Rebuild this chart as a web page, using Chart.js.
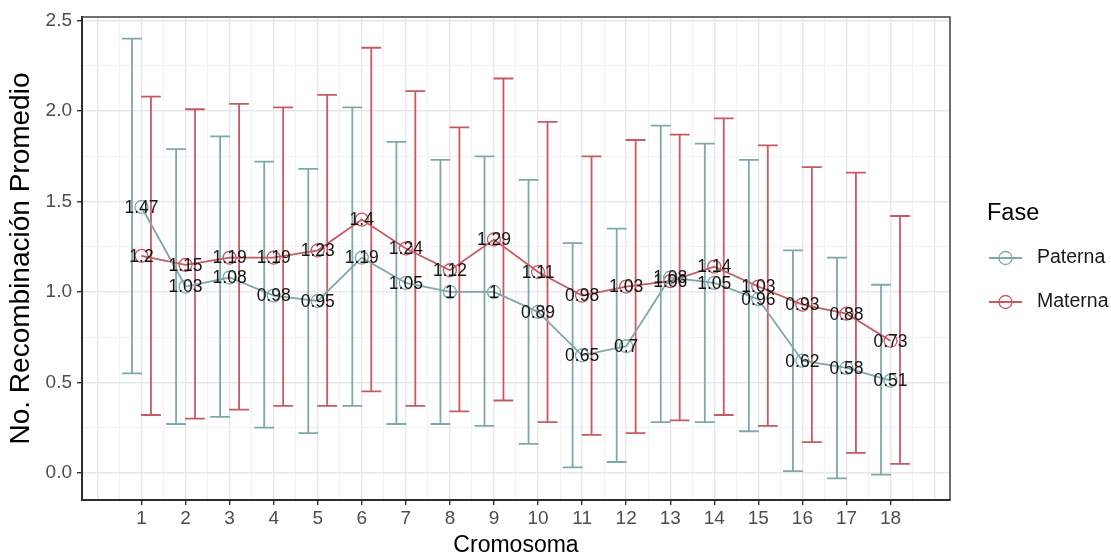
<!DOCTYPE html>
<html lang="es">
<head>
<meta charset="UTF-8">
<title>Recombinación promedio por cromosoma</title>
<style>
  body { margin: 0; background: #ffffff; }
  #grafico { display: block; }
</style>
</head>
<body>
<canvas id="grafico" width="1111" height="559"></canvas>

<script src="https://cdn.jsdelivr.net/npm/chart.js"></script>
<script>
// Datos por cromosoma: media y extremos de la barra de error
const cromosomas = [1, 2, 3, 4, 5, 6, 7, 8, 9, 10, 11, 12, 13, 14, 15, 16, 17, 18];

const paternaMedia = [1.47, 1.03, 1.08, 0.98, 0.95, 1.19, 1.05, 1, 1, 0.89, 0.65, 0.7, 1.08, 1.05, 0.96, 0.62, 0.58, 0.51];
const paternaInf   = [0.55, 0.27, 0.31, 0.25, 0.22, 0.37, 0.27, 0.27, 0.26, 0.16, 0.03, 0.06, 0.28, 0.28, 0.23, 0.01, -0.03, -0.01];
const paternaSup   = [2.40, 1.79, 1.86, 1.72, 1.68, 2.02, 1.83, 1.73, 1.75, 1.62, 1.27, 1.35, 1.92, 1.82, 1.73, 1.23, 1.19, 1.04];

const maternaMedia = [1.2, 1.15, 1.19, 1.19, 1.23, 1.4, 1.24, 1.12, 1.29, 1.11, 0.98, 1.03, 1.06, 1.14, 1.03, 0.93, 0.88, 0.73];
const maternaInf   = [0.32, 0.30, 0.35, 0.37, 0.37, 0.45, 0.37, 0.34, 0.40, 0.28, 0.21, 0.22, 0.29, 0.32, 0.26, 0.17, 0.11, 0.05];
const maternaSup   = [2.08, 2.01, 2.04, 2.02, 2.09, 2.35, 2.11, 1.91, 2.18, 1.94, 1.75, 1.84, 1.87, 1.96, 1.81, 1.69, 1.66, 1.42];

const fases = ['Paterna', 'Materna'];
const xEtiquetas = cromosomas;
const yEtiquetas = [0, 0.5, 1, 1.5, 2, 2.5];

const colores = { Paterna: '#7fa8ab', Materna: '#c65a63' };
const fuente = "'Liberation Sans', Arial, sans-serif";

// desplazamiento lateral de cada barra de error y ancho de su remate (unidades de eje x)
const desplazamiento = { Paterna: -0.215, Materna: 0.215 };
const anchoRemate = 0.45;

const series = {
    Paterna: { media: paternaMedia, inf: paternaInf, sup: paternaSup },
    Materna: { media: maternaMedia, inf: maternaInf, sup: maternaSup }
};

function valoresCada(min, max, paso) {
    const out = [];
    for (let v = Math.ceil(min / paso) * paso; v <= max + 1e-9; v += paso) {
        out.push({ value: Math.round(v * 100) / 100 });
    }
    return out;
}

const esMayorX = v => xEtiquetas.includes(v);
const esMayorY = v => yEtiquetas.includes(v);

// barras de error, desplazadas a cada lado del cromosoma
const barrasError = {
    id: 'barrasError',
    beforeDatasetsDraw(chart) {
        const { ctx, scales: { x, y }, chartArea } = chart;
        ctx.save();
        ctx.beginPath();
        ctx.rect(chartArea.left, chartArea.top, chartArea.width, chartArea.height);
        ctx.clip();
        ctx.lineWidth = 1.8;
        fases.forEach(fase => {
            const s = series[fase];
            ctx.strokeStyle = colores[fase];
            cromosomas.forEach((c, i) => {
                const cx = c + desplazamiento[fase];
                const px = x.getPixelForValue(cx);
                const x0 = x.getPixelForValue(cx - anchoRemate / 2);
                const x1 = x.getPixelForValue(cx + anchoRemate / 2);
                const yi = y.getPixelForValue(s.inf[i]);
                const ys = y.getPixelForValue(s.sup[i]);
                ctx.beginPath();
                ctx.moveTo(px, yi); ctx.lineTo(px, ys);
                ctx.moveTo(x0, ys); ctx.lineTo(x1, ys);
                ctx.moveTo(x0, yi); ctx.lineTo(x1, yi);
                ctx.stroke();
            });
        });
        ctx.restore();
    }
};

// etiquetas con el valor de la media y marco del panel
const etiquetas = {
    id: 'etiquetas',
    afterDatasetsDraw(chart) {
        const { ctx, scales: { x, y }, chartArea } = chart;
        ctx.save();
        ctx.font = '17.5px ' + fuente;
        ctx.fillStyle = '#141414';
        ctx.textAlign = 'center';
        ctx.textBaseline = 'middle';
        fases.forEach(fase => {
            series[fase].media.forEach((v, i) => {
                ctx.fillText(String(v), x.getPixelForValue(cromosomas[i]), y.getPixelForValue(v) + 1);
            });
        });
        ctx.strokeStyle = '#333333';
        ctx.lineWidth = 1.4;
        ctx.strokeRect(chartArea.left, chartArea.top, chartArea.width, chartArea.height);
        ctx.restore();
    }
};

// leyenda "Fase" a la derecha del panel
const leyenda = {
    id: 'leyendaFase',
    afterDraw(chart) {
        const { ctx } = chart;
        ctx.save();
        ctx.fillStyle = '#000000';
        ctx.font = '23.5px ' + fuente;
        ctx.textAlign = 'left';
        ctx.textBaseline = 'alphabetic';
        ctx.fillText('Fase', 987, 220);
        fases.forEach((fase, i) => {
            const yc = 258 + i * 44;
            ctx.strokeStyle = colores[fase];
            ctx.lineWidth = 1.8;
            ctx.beginPath();
            ctx.moveTo(989, yc); ctx.lineTo(1022, yc);
            ctx.stroke();
            ctx.lineWidth = 1.3;
            ctx.beginPath();
            ctx.arc(1005.5, yc, 6.5, 0, Math.PI * 2);
            ctx.stroke();
            ctx.fillStyle = '#1a1a1a';
            ctx.font = '19.5px ' + fuente;
            ctx.textBaseline = 'middle';
            ctx.fillText(fase, 1037, yc);
        });
        ctx.restore();
    }
};

const ctx = document.getElementById('grafico').getContext('2d');
new Chart(ctx, {
    type: 'line',
    data: {
        datasets: fases.map(fase => ({
            label: fase,
            data: cromosomas.map((c, i) => ({ x: c, y: series[fase].media[i] })),
            borderColor: colores[fase],
            borderWidth: 1.8,
            tension: 0,
            pointRadius: 6.5,
            pointBorderWidth: 1.3,
            pointBorderColor: colores[fase],
            pointBackgroundColor: 'rgba(0,0,0,0)'
        }))
    },
    options: {
        responsive: false,
        animation: false,
        devicePixelRatio: 1,
        layout: { padding: { top: 17, right: 161, left: 0, bottom: 0 } },
        plugins: {
            legend: { display: false },
            tooltip: { enabled: false }
        },
        scales: {
            x: {
                type: 'linear',
                min: -0.35,
                max: 19.35,
                afterBuildTicks: s => { s.ticks = valoresCada(-0.35, 19.35, 0.5); },
                afterFit: s => { s.height = 59; },
                ticks: {
                    autoSkip: false,
                    maxRotation: 0,
                    minRotation: 0,
                    padding: 2,
                    color: '#4d4d4d',
                    font: { family: fuente, size: 19 },
                    callback: v => esMayorX(v) ? String(v) : ''
                },
                grid: {
                    color: c => Number.isInteger(c.tick.value) ? '#e8e8e8' : '#f1f1f1',
                    lineWidth: c => Number.isInteger(c.tick.value) ? 1.4 : 1,
                    tickColor: c => esMayorX(c.tick.value) ? '#333333' : 'rgba(0,0,0,0)',
                    tickWidth: 1.4,
                    tickLength: 5
                },
                border: { display: true, color: '#222222', width: 2 },
                title: {
                    display: true,
                    text: 'Cromosoma',
                    color: '#000000',
                    font: { family: fuente, size: 23 },
                    padding: { top: 0, bottom: 0 }
                }
            },
            y: {
                min: -0.15,
                max: 2.52,
                afterBuildTicks: s => { s.ticks = valoresCada(-0.15, 2.52, 0.25); },
                afterFit: s => { s.width = 82; },
                ticks: {
                    autoSkip: false,
                    padding: 5,
                    color: '#4d4d4d',
                    font: { family: fuente, size: 19 },
                    callback: v => esMayorY(v) ? v.toFixed(1) : ''
                },
                grid: {
                    color: c => esMayorY(c.tick.value) ? '#e8e8e8' : '#f1f1f1',
                    lineWidth: c => esMayorY(c.tick.value) ? 1.4 : 1,
                    tickColor: c => esMayorY(c.tick.value) ? '#333333' : 'rgba(0,0,0,0)',
                    tickWidth: 1.4,
                    tickLength: 5
                },
                border: { display: true, color: '#222222', width: 2 },
                title: {
                    display: true,
                    text: 'No. Recombinación Promedio',
                    color: '#000000',
                    font: { family: fuente, size: 28 },
                    padding: { top: 4, bottom: 0 }
                }
            }
        }
    },
    plugins: [barrasError, etiquetas, leyenda]
});
</script>
</body>
</html>
